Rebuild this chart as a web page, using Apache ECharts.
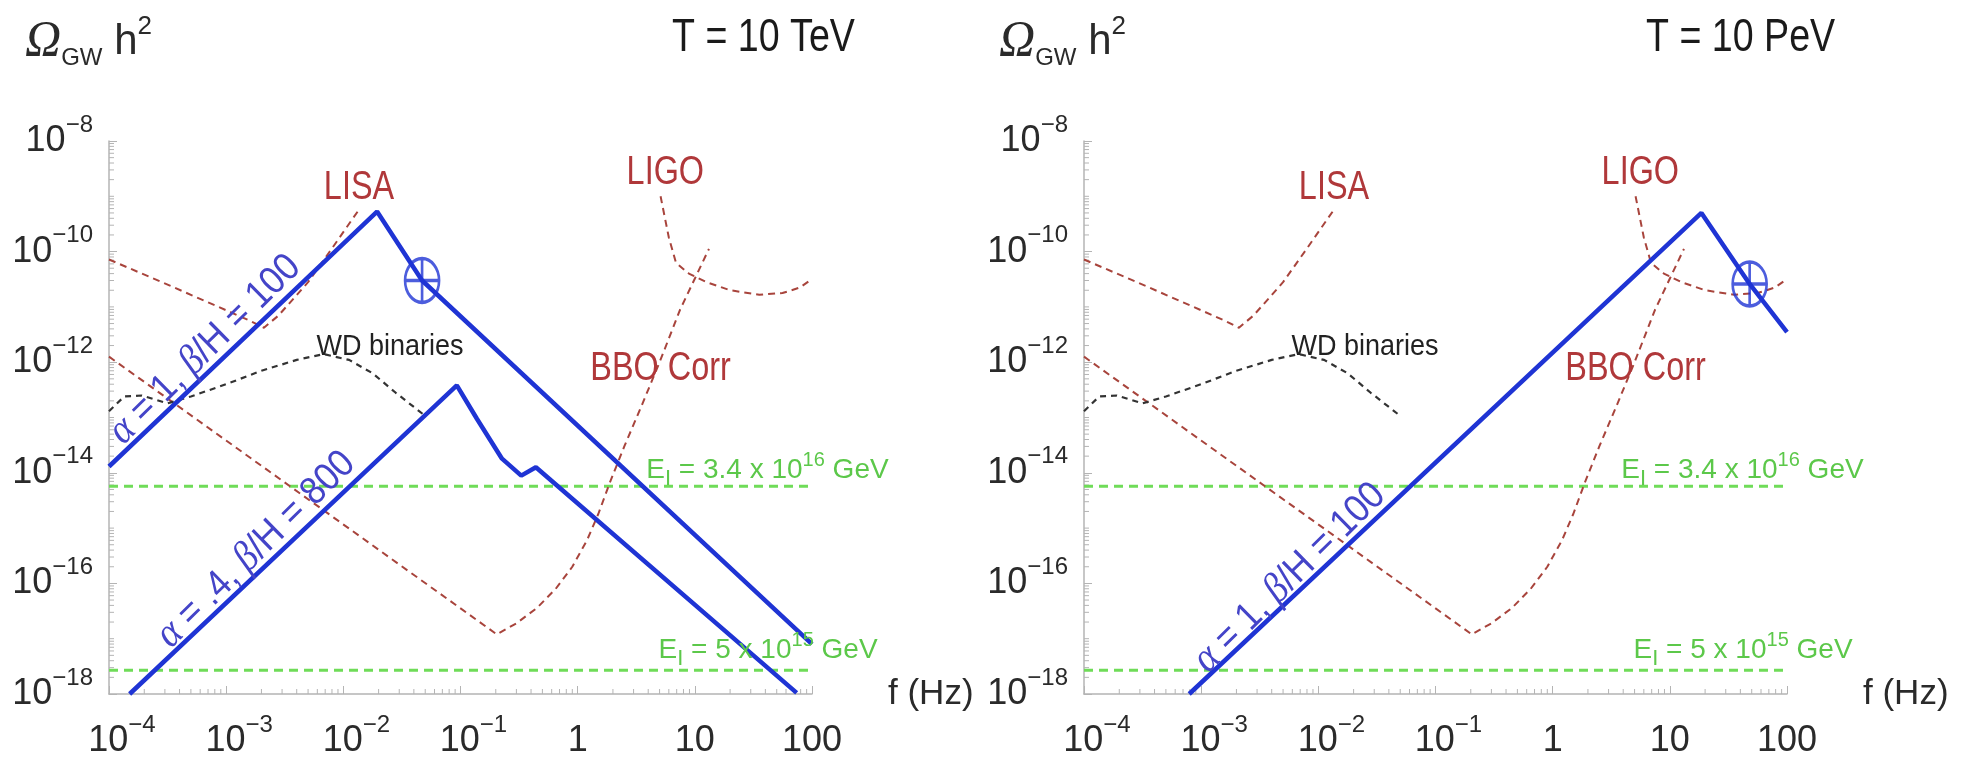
<!DOCTYPE html>
<html><head><meta charset="utf-8">
<script src="https://cdn.jsdelivr.net/npm/echarts/dist/echarts.min.js"></script>
<style>html,body{margin:0;padding:0;background:#fff}#c{width:1963px;height:759px}</style>
</head><body><div id="c"></div><script>
// ---------------- data ----------------
const panelTitles = ['T = 10 TeV', 'T = 10 PeV'];
const xTickValues = [1e-4, 1e-3, 1e-2, 1e-1, 1, 10, 100];
const xTickBase = ['10', '10', '10', '10', '1', '10', '100'];
const xTickExp = ['−4', '−3', '−2', '−1', '', '', ''];
const yTickValues = [1e-18, 1e-16, 1e-14, 1e-12, 1e-10, 1e-8];
const yTickBase = ['10', '10', '10', '10', '10', '10'];
const yTickExp = ['−18', '−16', '−14', '−12', '−10', '−8'];
const minorMultipliers = [2, 3, 4, 5, 6, 7, 8, 9];

// sensitivity curves (same in both panels)  [f (Hz), Omega h^2]
const lisaCurve = [[1e-4, 7.2e-11], [3.2e-4, 2.5e-11], [1e-3, 8.7e-12], [1.6e-3, 5.6e-12], [2.1e-3, 4.2e-12], [2.8e-3, 7e-12], [5e-3, 2.8e-11], [7.9e-3, 1.1e-10], [1.38e-2, 6e-10]];
const bboCorrCurve = [[1e-4, 1.26e-12], [0.204, 1.2e-17], [0.3, 1.9e-17], [0.45, 3.6e-17], [0.65, 8e-17], [0.9, 2e-16], [1.2, 6e-16], [1.5, 1.8e-15], [1.9, 7e-15], [2.5, 3e-14], [3.5, 1.6e-13], [5.0, 1e-12], [7.5, 9e-12], [13.2, 1.12e-10]];
const ligoCurve = [[5.1, 1e-9], [6.0, 1.8e-10], [6.9, 6.3e-11], [8.9, 4e-11], [12.6, 2.8e-11], [20, 2e-11], [35.5, 1.66e-11], [56, 1.78e-11], [79, 2.24e-11], [100, 3.2e-11]];
const wdBinariesCurve = [[1e-4, 1.3e-13], [1.35e-4, 2.4e-13], [1.9e-4, 2.5e-13], [3.16e-4, 1.8e-13], [5e-4, 2.4e-13], [1e-3, 4e-13], [2e-3, 7e-13], [4e-3, 1.1e-12], [6.8e-3, 1.4e-12], [1.12e-2, 1.1e-12], [1.78e-2, 6.3e-13], [2.8e-2, 2.8e-13], [5e-2, 1.07e-13]];
const inflationHigh = [[1e-4, 5.7e-15], [100, 5.7e-15]];
const inflationLow = [[1e-4, 2.7e-18], [100, 2.7e-18]];

// phase-transition spectra
const spectrumTeV_a1 = [[1e-4, 1.3e-14], [0.0194, 5.3e-10], [0.047, 3.0e-11], [100, 8e-18]];
const spectrumTeV_a04 = [[1.5e-4, 1e-18], [0.093, 3.8e-13], [0.138, 9.5e-14], [0.226, 1.8e-14], [0.33, 8.9e-15], [0.44, 1.26e-14], [74, 1.05e-18]];
const spectrumPeV_a1 = [[7.9e-4, 1e-18], [18.6, 5e-10], [48, 2.6e-11], [100, 3.5e-12]];
const markerTeV = [[0.047, 3.0e-11]];
const markerPeV = [[48, 2.6e-11]];

// text annotations [f, Omega, text, styleKey]
const annotationsTeV = [
  [0.0136, 1.43e-9, 'LISA', 'red'],
  [5.6, 2.6e-9, 'LIGO', 'red'],
  [5.1, 7.6e-13, 'BBO Corr', 'red'],
  [0.025, 1.9e-12, 'WD binaries', 'black'],
  [3.85, 1.12e-14, '{b|E}{sub|I}{b| = 3.4 x 10}{sup|16}{b| GeV}', 'green'],
  [4.9, 6.2e-18, '{b|E}{sub|I}{b| = 5 x 10}{sup|15}{b| GeV}', 'green'],
  [6.6e-4, 1.7e-12, '{g|α}{t| = 1, }{g|β}{t|/H = 100}', 'blue'],
  [1.8e-3, 4.1e-16, '{g|α}{t| = .4, }{g|β}{t|/H = 800}', 'blue']
];
const annotationsPeV = [
  [0.0136, 1.43e-9, 'LISA', 'red'],
  [5.6, 2.6e-9, 'LIGO', 'red'],
  [5.1, 7.6e-13, 'BBO Corr', 'red'],
  [0.025, 1.9e-12, 'WD binaries', 'black'],
  [3.85, 1.12e-14, '{b|E}{sub|I}{b| = 3.4 x 10}{sup|16}{b| GeV}', 'green'],
  [4.9, 6.2e-18, '{b|E}{sub|I}{b| = 5 x 10}{sup|15}{b| GeV}', 'green'],
  [5.7e-3, 1.26e-16, '{g|α}{t| = 1, }{g|β}{t|/H = 100}', 'blue']
];

// ---------------- style ----------------
const SANS = "'Liberation Sans', Arial, sans-serif";
const SERIF = "'Liberation Serif', 'DejaVu Serif', serif";
const TXT = '#2a2a2a';
const RED = '#a8443c', RED_TXT = '#b0383a';
const BLUE = '#1f34d4', BLUE_TXT = '#4444c8';
const GREEN = '#6fdc58', GREEN_TXT = '#5cc84a';
const AXIS = '#b4b4b4';

const tickRich = {
  pad: {width: 26, fontSize: 10},
  b: {fontFamily: SANS, fontSize: 36, lineHeight: 56, color: TXT},
  s: {fontFamily: SANS, fontSize: 24, lineHeight: 26, verticalAlign: 'top', color: TXT}
};
function tickLabel(values, base, exp, centerBase) {
  return function (v) {
    const lv = Math.log10(v);
    for (let i = 0; i < values.length; i++) {
      if (Math.abs(Math.log10(values[i]) - lv) < 1e-6) {
        if (!exp[i]) return '{b|' + base[i] + '}';
        return (centerBase ? '{pad| }' : '') + '{b|' + base[i] + '}{s|' + exp[i] + '}';
      }
    }
    return '';
  };
}

const labelStyles = {
  red: {rotate: 0, scale: 0.81, style: {fill: RED_TXT, fontFamily: SANS, fontSize: 40, align: 'center', verticalAlign: 'middle'}},
  black: {rotate: 0, scale: 0.9, style: {fill: '#222', fontFamily: SANS, fontSize: 30, align: 'center', verticalAlign: 'middle'}},
  green: {rotate: 0, scale: 1.0, style: {align: 'left', verticalAlign: 'middle', rich: {
    b: {fontFamily: SANS, fontSize: 28, lineHeight: 40, fill: GREEN_TXT},
    sup: {fontFamily: SANS, fontSize: 20, lineHeight: 14, verticalAlign: 'top', fill: GREEN_TXT},
    sub: {fontFamily: SANS, fontSize: 22, lineHeight: 10, verticalAlign: 'bottom', fill: GREEN_TXT}
  }}},
  blue: {rotate: 44.5, scale: 0.9, style: {align: 'center', verticalAlign: 'middle', rich: {
    t: {fontFamily: SANS, fontSize: 39, fill: BLUE_TXT},
    g: {fontFamily: SERIF, fontStyle: 'italic', fontSize: 42, fill: BLUE_TXT}
  }}}
};

const xAxes = [], yAxes = [], grids = [], series = [], graphics = [];
const gridLefts = [109, 1084];
const titleLefts = [25, 999];
const tLefts = [672, 1646];

function minorValues(minExp, maxExp) {
  const out = [];
  for (let e = minExp; e < maxExp; e++) minorMultipliers.forEach(m => out.push(m * Math.pow(10, e)));
  return out;
}
const xMinor = minorValues(-4, 2);
const yMinor = minorValues(-18, -8).concat([1e-17, 1e-15, 1e-13, 1e-11, 1e-9]);

for (let g = 0; g < 2; g++) {
  grids.push({left: gridLefts[g], top: 141, width: 703, height: 556});
  xAxes.push({
    type: 'log', gridIndex: g, min: 1e-4, max: 100, logBase: 10, interval: 1,
    axisLine: {show: true, lineStyle: {color: AXIS, width: 1.5}},
    axisTick: {show: true, inside: true, length: 8, lineStyle: {color: AXIS}},
    splitLine: {show: false},
    axisLabel: {margin: 19, formatter: tickLabel(xTickValues, xTickBase, xTickExp, true), rich: tickRich},
    name: 'f (Hz)', nameLocation: 'end', nameGap: 76,
    nameTextStyle: {fontFamily: SANS, fontSize: 35, color: TXT, padding: [8, 0, 0, 0]}
  });
  yAxes.push({
    type: 'log', gridIndex: g, min: 1e-18, max: 1e-8, logBase: 10, interval: 2,
    axisLine: {show: true, lineStyle: {color: AXIS, width: 1.5}},
    axisTick: {show: true, inside: true, length: 8, lineStyle: {color: AXIS}},
    splitLine: {show: false},
    axisLabel: {margin: 16, formatter: tickLabel(yTickValues, yTickBase, yTickExp, false), rich: tickRich}
  });
  graphics.push({
    type: 'text', x: titleLefts[g], y: 42,
    style: {text: '{o|Ω}{g|GW}{h| h}{s|2}', verticalAlign: 'middle', align: 'left', rich: {
      o: {fontFamily: SERIF, fontStyle: 'italic', fontSize: 50, lineHeight: 56, fill: TXT},
      g: {fontFamily: SANS, fontSize: 24, lineHeight: 26, verticalAlign: 'bottom', fill: TXT},
      h: {fontFamily: SANS, fontSize: 42, lineHeight: 56, fill: TXT},
      s: {fontFamily: SANS, fontSize: 26, lineHeight: 40, verticalAlign: 'top', fill: TXT}
    }}
  });
  graphics.push({
    type: 'text', x: tLefts[g], y: 38, scaleX: 0.8,
    style: {text: panelTitles[g], fontFamily: SANS, fontSize: 47, fill: '#1a1a1a', align: 'left', verticalAlign: 'middle'}
  });

  const dashLine = (data, color, width, dash, z) => ({
    type: 'line', xAxisIndex: g, yAxisIndex: g, data, showSymbol: false, symbol: 'none', silent: true, z: z || 2,
    lineStyle: {color, width, type: dash}
  });
  // minor ticks
  series.push({
    type: 'custom', xAxisIndex: g, yAxisIndex: g, silent: true, z: 1,
    data: xMinor.map(v => [v, 1e-18]),
    renderItem: (p, api) => {
      const c = api.coord([api.value(0), api.value(1)]);
      return {type: 'line', shape: {x1: c[0], y1: c[1], x2: c[0], y2: c[1] - 5}, style: {stroke: AXIS, lineWidth: 1}};
    }
  });
  series.push({
    type: 'custom', xAxisIndex: g, yAxisIndex: g, silent: true, z: 1,
    data: yMinor.map(v => [1e-4, v]),
    renderItem: (p, api) => {
      const c = api.coord([api.value(0), api.value(1)]);
      return {type: 'line', shape: {x1: c[0], y1: c[1], x2: c[0] + 5, y2: c[1]}, style: {stroke: AXIS, lineWidth: 1}};
    }
  });
  series.push(dashLine(inflationHigh, GREEN, 3, [9, 6]));
  series.push(dashLine(inflationLow, GREEN, 3, [9, 6]));
  series.push(dashLine(lisaCurve, RED, 2, [7, 5]));
  series.push(dashLine(bboCorrCurve, RED, 2, [7, 5]));
  series.push(dashLine(ligoCurve, RED, 2, [7, 5]));
  series.push(dashLine(wdBinariesCurve, '#333', 2.2, [6, 5]));
  const spectra = g === 0 ? [spectrumTeV_a1, spectrumTeV_a04] : [spectrumPeV_a1];
  spectra.forEach(s => series.push({
    type: 'line', xAxisIndex: g, yAxisIndex: g, data: s, showSymbol: false, symbol: 'none', silent: true, z: 5,
    lineStyle: {color: BLUE, width: 4.5}
  }));
  series.push({
    type: 'scatter', xAxisIndex: g, yAxisIndex: g, silent: true, z: 6,
    data: g === 0 ? markerTeV : markerPeV,
    symbol: 'path://M0,-22 A17,22 0 1,1 0,22 A17,22 0 1,1 0,-22 Z M0,-22 L0,22 M-17,0 L17,0',
    symbolSize: [34, 44],
    itemStyle: {color: 'rgba(0,0,0,0)', borderColor: BLUE, borderWidth: 3}
  });
  const ann = g === 0 ? annotationsTeV : annotationsPeV;
  series.push({
    type: 'custom', xAxisIndex: g, yAxisIndex: g, silent: true, z: 7, clip: false,
    data: ann.map(a => [a[0], a[1]]),
    renderItem: (p, api) => {
      const a = ann[p.dataIndex];
      const st = labelStyles[a[3]];
      const c = api.coord([api.value(0), api.value(1)]);
      return {
        type: 'text', x: c[0], y: c[1], scaleX: st.scale, rotation: st.rotate * Math.PI / 180,
        style: Object.assign({text: a[2]}, st.style)
      };
    }
  });
}

const chart = echarts.init(document.getElementById('c'), null, {renderer: 'canvas'});
chart.setOption({
  animation: false, backgroundColor: '#fff',
  graphic: graphics, grid: grids, xAxis: xAxes, yAxis: yAxes, series
});
</script></body></html>
